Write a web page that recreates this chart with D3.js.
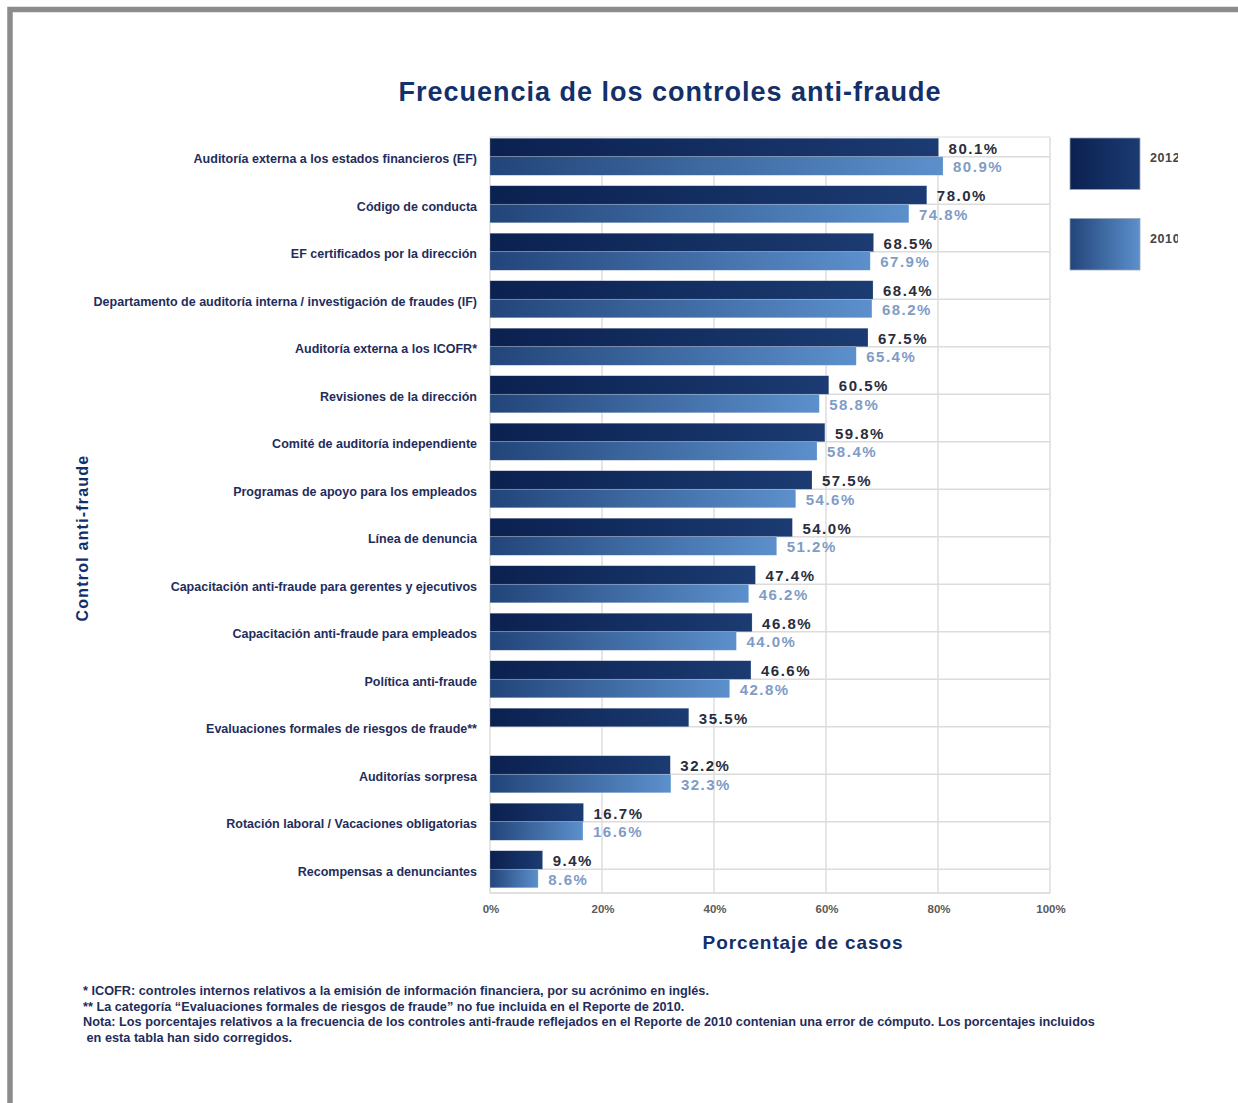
<!DOCTYPE html>
<html>
<head>
<meta charset="utf-8">
<script src="https://cdn.jsdelivr.net/npm/d3@7/dist/d3.min.js"></script>
<style>
  html, body { margin: 0; padding: 0; background: #fff; }
  svg { display: block; font-family: "Liberation Sans", Arial, Helvetica, sans-serif; }
</style>
</head>
<body>
<svg id="chart" width="1238" height="1103"></svg>
<script>
// Anti-fraud controls, share of cases (%) for the 2012 and 2010 reports
const controls = [
  "Auditoría externa a los estados financieros (EF)",
  "Código de conducta",
  "EF certificados por la dirección",
  "Departamento de auditoría interna / investigación de fraudes (IF)",
  "Auditoría externa a los ICOFR*",
  "Revisiones de la dirección",
  "Comité de auditoría independiente",
  "Programas de apoyo para los empleados",
  "Línea de denuncia",
  "Capacitación anti-fraude para gerentes y ejecutivos",
  "Capacitación anti-fraude para empleados",
  "Política anti-fraude",
  "Evaluaciones formales de riesgos de fraude**",
  "Auditorías sorpresa",
  "Rotación laboral / Vacaciones obligatorias",
  "Recompensas a denunciantes"
];
const values2012 = [80.1, 78.0, 68.5, 68.4, 67.5, 60.5, 59.8, 57.5, 54.0, 47.4, 46.8, 46.6, 35.5, 32.2, 16.7, 9.4];
const values2010 = [80.9, 74.8, 67.9, 68.2, 65.4, 58.8, 58.4, 54.6, 51.2, 46.2, 44.0, 42.8, null, 32.3, 16.6, 8.6];
const seriesNames = ["2012", "2010"];
const xTicks = [0, 20, 40, 60, 80, 100];

const title = "Frecuencia de los controles anti-fraude";
const xTitle = "Porcentaje de casos";
const yTitle = "Control anti-fraude";
const notes = [
  "* ICOFR: controles internos relativos a la emisión de información financiera, por su acrónimo en inglés.",
  "** La categoría “Evaluaciones formales de riesgos de fraude” no fue incluida en el Reporte de 2010.",
  "Nota: Los porcentajes relativos a la frecuencia de los controles anti-fraude reflejados en el Reporte de 2010 contenian una error de cómputo. Los porcentajes incluidos",
  " en esta tabla han sido corregidos."
];

const navy = "#13306a";
const labelNavy = "#1f2d5c";

const svg = d3.select("#chart");

// page frame (top and left edges visible)
svg.append("rect")
  .attr("x", 10).attr("y", 9.5)
  .attr("width", 1300).attr("height", 1200)
  .attr("fill", "none").attr("stroke", "#8c8c8c").attr("stroke-width", 5.5);

// gradients
const defs = svg.append("defs");
function grad(id, stops) {
  const g = defs.append("linearGradient").attr("id", id)
    .attr("x1", "0%").attr("x2", "100%").attr("y1", "0%").attr("y2", "0%");
  stops.forEach(([o, c]) => g.append("stop").attr("offset", o).attr("stop-color", c));
}
grad("g2012", [["0%", "#0b2150"], ["100%", "#1b3b72"]]);
grad("g2010", [["0%", "#22457a"], ["100%", "#5c90cc"]]);
const fills = { "2012": "url(#g2012)", "2010": "url(#g2010)" };

// scales
const x = d3.scaleLinear().domain([0, 100]).range([490, 1050]);
const y = d3.scaleBand().domain(controls).range([133, 893]).paddingInner(0.22).paddingOuter(0.11);
const ySeries = d3.scaleBand().domain(seriesNames).range([0, y.bandwidth()]).padding(0);

const plotTop = 137, plotBottom = 893;

// grid
const grid = svg.append("g");
grid.selectAll("line.v").data(xTicks).join("line")
  .attr("x1", d => x(d)).attr("x2", d => x(d))
  .attr("y1", plotTop).attr("y2", plotBottom)
  .attr("stroke", "#dcdcdc").attr("stroke-width", 1.5);
grid.selectAll("line.h").data(controls).join("line")
  .attr("x1", x(0)).attr("x2", x(100))
  .attr("y1", d => y(d) + y.bandwidth() / 2).attr("y2", d => y(d) + y.bandwidth() / 2)
  .attr("stroke", "#dcdcdc").attr("stroke-width", 1.5);
grid.append("line").attr("x1", x(0)).attr("x2", x(100)).attr("y1", plotTop).attr("y2", plotTop)
  .attr("stroke", "#e6e6e6").attr("stroke-width", 1.5);
grid.append("line").attr("x1", x(0)).attr("x2", x(100)).attr("y1", plotBottom).attr("y2", plotBottom)
  .attr("stroke", "#d6d6d6").attr("stroke-width", 1.5);

// bars
const rows = controls.map((c, i) => ({ c, v: { "2012": values2012[i], "2010": values2010[i] } }));
const gRow = svg.append("g").selectAll("g").data(rows).join("g")
  .attr("transform", d => `translate(0,${y(d.c)})`);

gRow.selectAll("rect").data(d => seriesNames.filter(s => d.v[s] != null).map(s => ({ s, v: d.v[s] })))
  .join("rect")
  .attr("x", x(0))
  .attr("y", d => ySeries(d.s))
  .attr("width", d => x(d.v) - x(0))
  .attr("height", ySeries.bandwidth())
  .attr("fill", d => fills[d.s])
  .attr("stroke", "rgba(255,255,255,0.35)").attr("stroke-width", 0.6);

// value labels
gRow.selectAll("text").data(d => seriesNames.filter(s => d.v[s] != null).map(s => ({ s, v: d.v[s] })))
  .join("text")
  .attr("x", d => x(d.v) + 10)
  .attr("y", d => ySeries(d.s) + ySeries.bandwidth() / 2 + 1)
  .attr("dy", "0.36em")
  .attr("font-size", 15).attr("font-weight", "bold")
  .attr("letter-spacing", 1.5)
  .attr("fill", d => d.s === "2012" ? "#2a2d3c" : "#7f9cc6")
  .text(d => d.v.toFixed(1) + "%");

// category labels
const catX = 477;
svg.append("g").selectAll("text").data(controls).join("text")
  .attr("transform", d => `translate(${catX},${y(d) + y.bandwidth() / 2 + 2})`)
  .attr("text-anchor", "end").attr("dy", "0.35em")
  .attr("font-size", 12.5).attr("font-weight", "bold")
  .attr("fill", labelNavy)
  .text(d => d);

// x tick labels
svg.append("g").selectAll("text").data(xTicks).join("text")
  .attr("transform", d => `translate(${x(d) + 1},913)`)
  .attr("text-anchor", "middle")
  .attr("font-size", 11.5).attr("font-weight", "bold")
  .attr("fill", "#5a5a5a")
  .text(d => d + "%");

// titles
svg.append("text")
  .attr("x", 670).attr("y", 101)
  .attr("text-anchor", "middle")
  .attr("font-size", 27).attr("font-weight", "bold").attr("letter-spacing", 1)
  .attr("fill", navy)
  .text(title);

svg.append("text")
  .attr("x", 803).attr("y", 949)
  .attr("text-anchor", "middle")
  .attr("font-size", 19).attr("font-weight", "bold").attr("letter-spacing", 0.9)
  .attr("fill", navy)
  .text(xTitle);

svg.append("text")
  .attr("transform", "translate(88,538) rotate(-90)")
  .attr("text-anchor", "middle")
  .attr("font-size", 16).attr("font-weight", "bold").attr("letter-spacing", 1.2)
  .attr("fill", navy)
  .text(yTitle);

// legend, clipped at its right edge
defs.append("clipPath").attr("id", "legendClip")
  .append("rect").attr("x", 1060).attr("y", 120).attr("width", 118).attr("height", 170);
const legend = svg.append("g").attr("clip-path", "url(#legendClip)");
const legendY = d3.scaleBand().domain(seriesNames).range([138, 270]).paddingInner(0.36);
legend.selectAll("rect").data(seriesNames).join("rect")
  .attr("x", 1070).attr("y", d => legendY(d))
  .attr("width", 70).attr("height", legendY.bandwidth())
  .attr("fill", d => fills[d])
  .attr("stroke", "#9aa6bb").attr("stroke-width", 0.8);
legend.selectAll("text").data(seriesNames).join("text")
  .attr("x", 1150).attr("y", d => legendY(d) + legendY.bandwidth() / 2 - 6)
  .attr("dy", "0.35em")
  .attr("font-size", 12.5).attr("font-weight", "bold").attr("letter-spacing", 0.6)
  .attr("fill", "#444")
  .text(d => d);

// footnotes
svg.append("g").selectAll("text").data(notes).join("text")
  .attr("transform", (d, i) => `translate(83,${995 + i * 15.5}) scale(1.06,1)`)
  .attr("font-size", 12).attr("font-weight", "bold")
  .attr("fill", labelNavy)
  .attr("xml:space", "preserve")
  .style("white-space", "pre")
  .text(d => d);
</script>
</body>
</html>
